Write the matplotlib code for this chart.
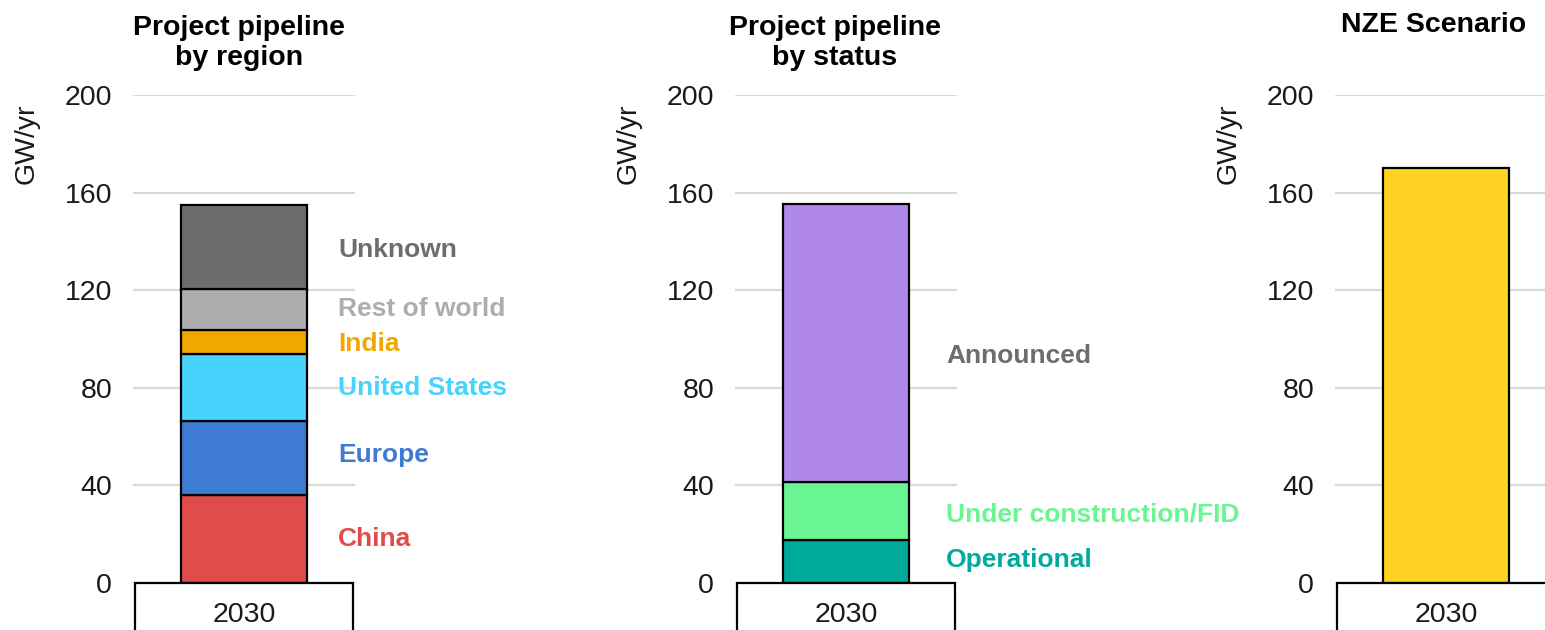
import matplotlib
matplotlib.use("Agg")
import matplotlib.pyplot as plt
from matplotlib.patches import Rectangle

plt.rcParams['font.family'] = ['Liberation Sans', 'DejaVu Sans']

year = "2030"

region_names = ["China", "Europe", "United States", "India", "Rest of world", "Unknown"]
region_values = [36.0, 30.4, 27.5, 9.8, 16.8, 34.4]
region_colors = ["#e04b4b", "#3e7bd3", "#47d3fc", "#f0a800", "#adadad", "#6d6d6d"]
region_label_y = [18, 52.5, 80, 98, 112.3, 136.5]

status_names = ["Operational", "Under construction/FID", "Announced"]
status_values = [17.6, 23.8, 113.9]
status_colors = ["#00ab9d", "#6af593", "#b088ec"]
status_text_colors = ["#00ab9d", "#6af593", "#6d6d6d"]
status_label_y = [9.4, 27.9, 93]

nze_value = [170.0]
nze_color = "#fed323"

titles = ["Project pipeline\nby region", "Project pipeline\nby status", "NZE Scenario"]
yticks = [0, 40, 80, 120, 160, 200]

W, H = 1545, 630
fig = plt.figure(figsize=(W / 100, H / 100), dpi=100)

ax_w = 222 / W
ax_b = 1 - 583 / H
ax_h = (583 - 95) / H
lefts = [133 / W, 735 / W, 1335 / W]
axes = [fig.add_axes([l, ax_b, ax_w, ax_h]) for l in lefts]

bar_w = 126 / 222
fs = 20.5


def style(ax):
    ax.set_xlim(-0.5, 0.5)
    ax.set_ylim(0, 200)
    ax.set_yticks(yticks)
    ax.set_xticks([])
    for s in ax.spines.values():
        s.set_visible(False)
    ax.tick_params(axis='y', length=0, pad=15, labelsize=fs, labelcolor="#1a1a1a")
    ax.grid(axis='y', color="#d9d9d9", linewidth=1.6)
    ax.set_axisbelow(True)
    # category box under the axis
    ax.add_patch(Rectangle((0.01, -0.25), 0.98, 0.25, transform=ax.transAxes,
                           facecolor="white", edgecolor="black", linewidth=1.6,
                           clip_on=False, zorder=5))
    ax.text(0.5, -0.065, year, transform=ax.transAxes, ha='center', va='center',
            fontsize=fs, color="#1a1a1a", zorder=6)
    ax.text(-106 / 222, 0.90, "GW/yr", transform=ax.transAxes, rotation=90,
            ha='center', va='center', fontsize=fs, color="#1a1a1a")


for ax in axes:
    style(ax)

# panel 1: by region
bottom = 0
for v, c in zip(region_values, region_colors):
    axes[0].bar(0, v, bottom=bottom, width=bar_w, color=c, edgecolor="black", linewidth=1.6, zorder=3)
    bottom += v
for n, c, y in zip(region_names, region_colors, region_label_y):
    axes[0].text(0.925, y, n, transform=axes[0].get_yaxis_transform(), color=c,
                 fontsize=19, fontweight='bold', va='center', ha='left', clip_on=False)

# panel 2: by status
bottom = 0
for v, c in zip(status_values, status_colors):
    axes[1].bar(0, v, bottom=bottom, width=bar_w, color=c, edgecolor="black", linewidth=1.6, zorder=3)
    bottom += v
for n, c, y in zip(status_names, status_text_colors, status_label_y):
    axes[1].text(0.95, y, n, transform=axes[1].get_yaxis_transform(), color=c,
                 fontsize=19, fontweight='bold', va='center', ha='left', clip_on=False)

# panel 3: NZE
axes[2].bar(0, nze_value[0], width=bar_w, color=nze_color, edgecolor="black", linewidth=1.6, zorder=3)

# titles
fig.text(239 / W, 1 - 43 / H, titles[0], ha='center', va='center', fontsize=fs,
         fontweight='bold', multialignment='center')
fig.text(835 / W, 1 - 43 / H, titles[1], ha='center', va='center', fontsize=fs,
         fontweight='bold', multialignment='center')
fig.text(1434 / W, 1 - 25 / H, titles[2], ha='center', va='center', fontsize=fs,
         fontweight='bold')

fig.savefig("out.png", dpi=100)
